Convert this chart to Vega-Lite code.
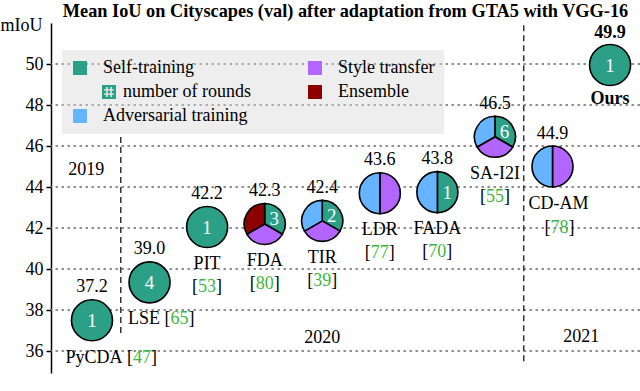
{
  "$schema": "https://vega.github.io/schema/vega-lite/v6.json",
  "width": 589,
  "height": 350,
  "autosize": "none",
  "padding": {"left": 51, "top": 23, "right": 0, "bottom": 18},
  "background": "white",
  "title": {"text": "Mean IoU on Cityscapes (val) after adaptation from GTA5 with VGG-16", "font": "Liberation Serif", "fontSize": 18.3, "fontWeight": "bold", "color": "black", "anchor": "middle", "offset": 1, "dy": 6},
  "config": {
    "font": "Liberation Serif",
    "view": {"stroke": null},
    "text": {"font": "Liberation Serif", "fontSize": 18, "color": "black", "baseline": "middle"}
  },
  "datasets": {
    "methods": [
      {"m": "PyCDA", "i": 1, "y": 37.5, "miou": 37.2, "cite": "47", "rounds": "1", "nsec": 1},
      {"m": "LSE", "i": 2, "y": 39.35, "miou": 39.0, "cite": "65", "rounds": "4", "nsec": 1},
      {"m": "PIT", "i": 3, "y": 42.05, "miou": 42.2, "cite": "53", "rounds": "1", "nsec": 1},
      {"m": "FDA", "i": 4, "y": 42.2, "miou": 42.3, "cite": "80", "rounds": "3", "nsec": 3},
      {"m": "TIR", "i": 5, "y": 42.35, "miou": 42.4, "cite": "39", "rounds": "2", "nsec": 3},
      {"m": "LDR", "i": 6, "y": 43.7, "miou": 43.6, "cite": "77", "rounds": null, "nsec": 2},
      {"m": "FADA", "i": 7, "y": 43.75, "miou": 43.8, "cite": "70", "rounds": "1", "nsec": 2},
      {"m": "SA-I2I", "i": 8, "y": 46.45, "miou": 46.5, "cite": "55", "rounds": "6", "nsec": 3},
      {"m": "CD-AM", "i": 9, "y": 45.0, "miou": 44.9, "cite": "78", "rounds": null, "nsec": 2},
      {"m": "Ours", "i": 10, "y": 49.95, "miou": 49.9, "cite": null, "rounds": "1", "nsec": 1}
    ],
    "sectors": [
      {"m": "PyCDA", "cat": "Self-training", "ord": 1, "w": 1},
      {"m": "LSE", "cat": "Self-training", "ord": 1, "w": 1},
      {"m": "PIT", "cat": "Self-training", "ord": 1, "w": 1},
      {"m": "FDA", "cat": "Self-training", "ord": 1, "w": 1},
      {"m": "FDA", "cat": "Style transfer", "ord": 2, "w": 1},
      {"m": "FDA", "cat": "Ensemble", "ord": 3, "w": 1},
      {"m": "TIR", "cat": "Self-training", "ord": 1, "w": 1},
      {"m": "TIR", "cat": "Style transfer", "ord": 2, "w": 1},
      {"m": "TIR", "cat": "Adversarial training", "ord": 3, "w": 1},
      {"m": "LDR", "cat": "Style transfer", "ord": 2, "w": 1},
      {"m": "LDR", "cat": "Adversarial training", "ord": 3, "w": 1},
      {"m": "FADA", "cat": "Self-training", "ord": 1, "w": 1},
      {"m": "FADA", "cat": "Adversarial training", "ord": 3, "w": 1},
      {"m": "SA-I2I", "cat": "Self-training", "ord": 1, "w": 1},
      {"m": "SA-I2I", "cat": "Style transfer", "ord": 2, "w": 1},
      {"m": "SA-I2I", "cat": "Adversarial training", "ord": 3, "w": 1},
      {"m": "CD-AM", "cat": "Style transfer", "ord": 2, "w": 1},
      {"m": "CD-AM", "cat": "Adversarial training", "ord": 3, "w": 1},
      {"m": "Ours", "cat": "Self-training", "ord": 1, "w": 1}
    ],
    "grid": [{"g": 36}, {"g": 38}, {"g": 40}, {"g": 42}, {"g": 44}, {"g": 46}, {"g": 48}, {"g": 50}],
    "bounds": [
      {"i": 1.5, "y0": 36.88, "y1": 46.54},
      {"i": 8.5, "y0": 35.5, "y1": 52.0}
    ],
    "years": [
      {"year": "2019", "i": 0.9, "y": 44.83},
      {"year": "2020", "i": 5.0, "y": 36.63},
      {"year": "2021", "i": 9.5, "y": 36.68}
    ]
  },
  "layer": [
    {
      "data": {"name": "grid"},
      "mark": {"type": "rule", "stroke": "#6e6e6e", "strokeWidth": 1.5, "strokeDash": [2.5, 3.5]},
      "encoding": {
        "y": {"field": "g", "type": "quantitative", "title": "mIoU", "scale": {"domain": [34.93, 52.0], "nice": false, "zero": false},
          "axis": {"title": "mIoU", "titleAngle": 0, "titleAlign": "center", "titleBaseline": "middle", "titleX": -30, "titleY": 2,
            "titleFont": "Liberation Serif", "titleFontSize": 18, "titleFontWeight": "normal", "titleColor": "black",
            "values": [36, 38, 40, 42, 44, 46, 48, 50], "labelFont": "Liberation Serif", "labelFontSize": 18, "labelColor": "black",
            "labelPadding": 3, "tickSize": 5, "tickColor": "black", "tickWidth": 1.5, "domainColor": "black", "domainWidth": 1.5,
            "grid": false}}
      }
    },
    {
      "data": {"name": "bounds"},
      "mark": {"type": "rule", "stroke": "#333333", "strokeWidth": 1.5, "strokeDash": [6, 4]},
      "encoding": {
        "x": {"field": "i", "type": "quantitative", "scale": {"domain": [0.288, 10.52], "nice": false, "zero": false}, "axis": null},
        "y": {"field": "y0", "type": "quantitative", "title": "mIoU", "scale": {"domain": [34.93, 52.0], "nice": false, "zero": false}},
        "y2": {"field": "y1"}
      }
    },
    {
      "data": {"name": "sectors"},
      "transform": [
        {"lookup": "m", "from": {"data": {"name": "methods"}, "key": "m", "fields": ["i", "y"]}},
        {"stack": "w", "groupby": ["m"], "sort": [{"field": "ord", "order": "ascending"}], "offset": "normalize", "as": ["t0", "t1"]}
      ],
      "mark": {"type": "arc", "radius": 20.5, "stroke": "black", "strokeWidth": 1.6},
      "encoding": {
        "x": {"field": "i", "type": "quantitative", "scale": {"domain": [0.288, 10.52], "nice": false, "zero": false}, "axis": null},
        "y": {"field": "y", "type": "quantitative", "title": "mIoU", "scale": {"domain": [34.93, 52.0], "nice": false, "zero": false}},
        "theta": {"field": "t0", "type": "quantitative", "stack": null, "scale": {"domain": [0, 1]}},
        "theta2": {"field": "t1"},
        "color": {"field": "cat", "type": "nominal",
          "scale": {"domain": ["Self-training", "number of rounds", "Adversarial training", "Style transfer", "Ensemble"],
            "range": ["#2c9f87", "#2c9f87", "#66b3ff", "#b366ff", "#8b0000"]},
          "legend": {"orient": "none", "legendX": 11, "legendY": 27, "columns": 2, "direction": "vertical", "title": null,
            "fillColor": "rgba(215,215,215,0.42)", "strokeColor": null, "padding": 9,
            "symbolType": "square", "symbolSize": 196, "symbolStrokeWidth": 0, "symbolStrokeColor": "transparent",
            "labelFont": "Liberation Serif", "labelFontSize": 18, "labelColor": "black", "labelOffset": 14, "labelLimit": 300,
            "rowPadding": 6, "columnPadding": 55,
            "encode": {
              "symbols": {"update": {"shape": {"signal": "datum.label == 'number of rounds' ? 'M3.14,-1L5.14,-1L5.14,1L3.14,1Z M3.74,-0.7L3.74,-0.4L3.44,-0.4L3.44,-0.2L3.74,-0.2L3.74,0.2L3.44,0.2L3.44,0.4L3.74,0.4L3.74,0.7L3.94,0.7L3.94,0.4L4.34,0.4L4.34,0.7L4.54,0.7L4.54,0.4L4.84,0.4L4.84,0.2L4.54,0.2L4.54,-0.2L4.84,-0.2L4.84,-0.4L4.54,-0.4L4.54,-0.7L4.34,-0.7L4.34,-0.4L3.94,-0.4L3.94,-0.7Z M3.94,-0.2L4.34,-0.2L4.34,0.2L3.94,0.2Z' : 'square'"}}},
              "labels": {"update": {"dx": {"signal": "datum.label == 'number of rounds' ? 20 : 0"}}}
            }}}
      }
    },
    {
      "data": {"name": "methods"},
      "transform": [{"filter": "datum.rounds != null && datum.nsec == 1"}],
      "mark": {"type": "text", "color": "white", "fontSize": 19, "dy": 1},
      "encoding": {
        "x": {"field": "i", "type": "quantitative", "scale": {"domain": [0.288, 10.52], "nice": false, "zero": false}, "axis": null},
        "y": {"field": "y", "type": "quantitative", "title": "mIoU", "scale": {"domain": [34.93, 52.0], "nice": false, "zero": false}},
        "text": {"field": "rounds"}
      }
    },
    {
      "data": {"name": "methods"},
      "transform": [{"filter": "datum.rounds != null && datum.nsec == 3"}],
      "mark": {"type": "text", "color": "white", "fontSize": 19, "dx": 9.5, "dy": -5},
      "encoding": {
        "x": {"field": "i", "type": "quantitative", "scale": {"domain": [0.288, 10.52], "nice": false, "zero": false}, "axis": null},
        "y": {"field": "y", "type": "quantitative", "title": "mIoU", "scale": {"domain": [34.93, 52.0], "nice": false, "zero": false}},
        "text": {"field": "rounds"}
      }
    },
    {
      "data": {"name": "methods"},
      "transform": [{"filter": "datum.rounds != null && datum.nsec == 2"}],
      "mark": {"type": "text", "color": "white", "fontSize": 19, "dx": 10, "dy": 1},
      "encoding": {
        "x": {"field": "i", "type": "quantitative", "scale": {"domain": [0.288, 10.52], "nice": false, "zero": false}, "axis": null},
        "y": {"field": "y", "type": "quantitative", "title": "mIoU", "scale": {"domain": [34.93, 52.0], "nice": false, "zero": false}},
        "text": {"field": "rounds"}
      }
    },
    {
      "data": {"name": "methods"},
      "transform": [{"filter": "datum.m != 'Ours'"}],
      "mark": {"type": "text", "dy": -33},
      "encoding": {
        "x": {"field": "i", "type": "quantitative", "scale": {"domain": [0.288, 10.52], "nice": false, "zero": false}, "axis": null},
        "y": {"field": "y", "type": "quantitative", "title": "mIoU", "scale": {"domain": [34.93, 52.0], "nice": false, "zero": false}},
        "text": {"field": "miou", "type": "quantitative", "format": ".1f"}
      }
    },
    {
      "data": {"name": "methods"},
      "transform": [{"filter": "datum.m == 'Ours'"}],
      "mark": {"type": "text", "dy": -32, "fontWeight": "bold"},
      "encoding": {
        "x": {"field": "i", "type": "quantitative", "scale": {"domain": [0.288, 10.52], "nice": false, "zero": false}, "axis": null},
        "y": {"field": "y", "type": "quantitative", "title": "mIoU", "scale": {"domain": [34.93, 52.0], "nice": false, "zero": false}},
        "text": {"field": "miou", "type": "quantitative", "format": ".1f"}
      }
    },
    {
      "data": {"name": "methods"},
      "transform": [{"filter": "datum.m == 'Ours'"}],
      "mark": {"type": "text", "dy": 34, "fontWeight": "bold"},
      "encoding": {
        "x": {"field": "i", "type": "quantitative", "scale": {"domain": [0.288, 10.52], "nice": false, "zero": false}, "axis": null},
        "y": {"field": "y", "type": "quantitative", "title": "mIoU", "scale": {"domain": [34.93, 52.0], "nice": false, "zero": false}},
        "text": {"field": "m"}
      }
    },
    {
      "data": {"name": "methods"},
      "transform": [{"filter": "datum.i >= 3 && datum.i <= 8"}],
      "mark": {"type": "text", "dy": 37},
      "encoding": {
        "x": {"field": "i", "type": "quantitative", "scale": {"domain": [0.288, 10.52], "nice": false, "zero": false}, "axis": null},
        "y": {"field": "y", "type": "quantitative", "title": "mIoU", "scale": {"domain": [34.93, 52.0], "nice": false, "zero": false}},
        "text": {"field": "m"}
      }
    },
    {
      "data": {"name": "methods"},
      "transform": [{"filter": "datum.i >= 3 && datum.i <= 8"}],
      "mark": {"type": "text", "dy": 60, "color": "#3db83d"},
      "encoding": {
        "x": {"field": "i", "type": "quantitative", "scale": {"domain": [0.288, 10.52], "nice": false, "zero": false}, "axis": null},
        "y": {"field": "y", "type": "quantitative", "title": "mIoU", "scale": {"domain": [34.93, 52.0], "nice": false, "zero": false}},
        "text": {"field": "cite"}
      }
    },
    {
      "data": {"name": "methods"},
      "transform": [{"filter": "datum.i >= 3 && datum.i <= 8"}],
      "mark": {"type": "text", "dy": 60, "dx": -9, "align": "right"},
      "encoding": {
        "x": {"field": "i", "type": "quantitative", "scale": {"domain": [0.288, 10.52], "nice": false, "zero": false}, "axis": null},
        "y": {"field": "y", "type": "quantitative", "title": "mIoU", "scale": {"domain": [34.93, 52.0], "nice": false, "zero": false}},
        "text": {"value": "["}
      }
    },
    {
      "data": {"name": "methods"},
      "transform": [{"filter": "datum.i >= 3 && datum.i <= 8"}],
      "mark": {"type": "text", "dy": 60, "dx": 9, "align": "left"},
      "encoding": {
        "x": {"field": "i", "type": "quantitative", "scale": {"domain": [0.288, 10.52], "nice": false, "zero": false}, "axis": null},
        "y": {"field": "y", "type": "quantitative", "title": "mIoU", "scale": {"domain": [34.93, 52.0], "nice": false, "zero": false}},
        "text": {"value": "]"}
      }
    },
    {
      "data": {"name": "methods"},
      "transform": [{"filter": "datum.m == 'CD-AM'"}],
      "mark": {"type": "text", "dy": 37, "dx": 6},
      "encoding": {
        "x": {"field": "i", "type": "quantitative", "scale": {"domain": [0.288, 10.52], "nice": false, "zero": false}, "axis": null},
        "y": {"field": "y", "type": "quantitative", "title": "mIoU", "scale": {"domain": [34.93, 52.0], "nice": false, "zero": false}},
        "text": {"field": "m"}
      }
    },
    {
      "data": {"name": "methods"},
      "transform": [{"filter": "datum.m == 'CD-AM'"}],
      "mark": {"type": "text", "dy": 61, "dx": 7, "color": "#3db83d"},
      "encoding": {
        "x": {"field": "i", "type": "quantitative", "scale": {"domain": [0.288, 10.52], "nice": false, "zero": false}, "axis": null},
        "y": {"field": "y", "type": "quantitative", "title": "mIoU", "scale": {"domain": [34.93, 52.0], "nice": false, "zero": false}},
        "text": {"field": "cite"}
      }
    },
    {
      "data": {"name": "methods"},
      "transform": [{"filter": "datum.m == 'CD-AM'"}],
      "mark": {"type": "text", "dy": 61, "dx": -2, "align": "right"},
      "encoding": {
        "x": {"field": "i", "type": "quantitative", "scale": {"domain": [0.288, 10.52], "nice": false, "zero": false}, "axis": null},
        "y": {"field": "y", "type": "quantitative", "title": "mIoU", "scale": {"domain": [34.93, 52.0], "nice": false, "zero": false}},
        "text": {"value": "["}
      }
    },
    {
      "data": {"name": "methods"},
      "transform": [{"filter": "datum.m == 'CD-AM'"}],
      "mark": {"type": "text", "dy": 61, "dx": 16, "align": "left"},
      "encoding": {
        "x": {"field": "i", "type": "quantitative", "scale": {"domain": [0.288, 10.52], "nice": false, "zero": false}, "axis": null},
        "y": {"field": "y", "type": "quantitative", "title": "mIoU", "scale": {"domain": [34.93, 52.0], "nice": false, "zero": false}},
        "text": {"value": "]"}
      }
    },
    {
      "data": {"name": "methods"},
      "transform": [{"filter": "datum.m == 'PyCDA'"}],
      "mark": {"type": "text", "dy": 38, "dx": 30.5, "align": "right"},
      "encoding": {
        "x": {"field": "i", "type": "quantitative", "scale": {"domain": [0.288, 10.52], "nice": false, "zero": false}, "axis": null},
        "y": {"field": "y", "type": "quantitative", "title": "mIoU", "scale": {"domain": [34.93, 52.0], "nice": false, "zero": false}},
        "text": {"field": "m"}
      }
    },
    {
      "data": {"name": "methods"},
      "transform": [{"filter": "datum.m == 'PyCDA'"}],
      "mark": {"type": "text", "dy": 38, "dx": 41, "align": "right"},
      "encoding": {
        "x": {"field": "i", "type": "quantitative", "scale": {"domain": [0.288, 10.52], "nice": false, "zero": false}, "axis": null},
        "y": {"field": "y", "type": "quantitative", "title": "mIoU", "scale": {"domain": [34.93, 52.0], "nice": false, "zero": false}},
        "text": {"value": "["}
      }
    },
    {
      "data": {"name": "methods"},
      "transform": [{"filter": "datum.m == 'PyCDA'"}],
      "mark": {"type": "text", "dy": 38, "dx": 41, "align": "left", "color": "#3db83d"},
      "encoding": {
        "x": {"field": "i", "type": "quantitative", "scale": {"domain": [0.288, 10.52], "nice": false, "zero": false}, "axis": null},
        "y": {"field": "y", "type": "quantitative", "title": "mIoU", "scale": {"domain": [34.93, 52.0], "nice": false, "zero": false}},
        "text": {"field": "cite"}
      }
    },
    {
      "data": {"name": "methods"},
      "transform": [{"filter": "datum.m == 'PyCDA'"}],
      "mark": {"type": "text", "dy": 38, "dx": 59, "align": "left"},
      "encoding": {
        "x": {"field": "i", "type": "quantitative", "scale": {"domain": [0.288, 10.52], "nice": false, "zero": false}, "axis": null},
        "y": {"field": "y", "type": "quantitative", "title": "mIoU", "scale": {"domain": [34.93, 52.0], "nice": false, "zero": false}},
        "text": {"value": "]"}
      }
    },
    {
      "data": {"name": "methods"},
      "transform": [{"filter": "datum.m == 'LSE'"}],
      "mark": {"type": "text", "dy": 37, "dx": 10.5, "align": "right"},
      "encoding": {
        "x": {"field": "i", "type": "quantitative", "scale": {"domain": [0.288, 10.52], "nice": false, "zero": false}, "axis": null},
        "y": {"field": "y", "type": "quantitative", "title": "mIoU", "scale": {"domain": [34.93, 52.0], "nice": false, "zero": false}},
        "text": {"field": "m"}
      }
    },
    {
      "data": {"name": "methods"},
      "transform": [{"filter": "datum.m == 'LSE'"}],
      "mark": {"type": "text", "dy": 37, "dx": 21, "align": "right"},
      "encoding": {
        "x": {"field": "i", "type": "quantitative", "scale": {"domain": [0.288, 10.52], "nice": false, "zero": false}, "axis": null},
        "y": {"field": "y", "type": "quantitative", "title": "mIoU", "scale": {"domain": [34.93, 52.0], "nice": false, "zero": false}},
        "text": {"value": "["}
      }
    },
    {
      "data": {"name": "methods"},
      "transform": [{"filter": "datum.m == 'LSE'"}],
      "mark": {"type": "text", "dy": 37, "dx": 21, "align": "left", "color": "#3db83d"},
      "encoding": {
        "x": {"field": "i", "type": "quantitative", "scale": {"domain": [0.288, 10.52], "nice": false, "zero": false}, "axis": null},
        "y": {"field": "y", "type": "quantitative", "title": "mIoU", "scale": {"domain": [34.93, 52.0], "nice": false, "zero": false}},
        "text": {"field": "cite"}
      }
    },
    {
      "data": {"name": "methods"},
      "transform": [{"filter": "datum.m == 'LSE'"}],
      "mark": {"type": "text", "dy": 37, "dx": 39, "align": "left"},
      "encoding": {
        "x": {"field": "i", "type": "quantitative", "scale": {"domain": [0.288, 10.52], "nice": false, "zero": false}, "axis": null},
        "y": {"field": "y", "type": "quantitative", "title": "mIoU", "scale": {"domain": [34.93, 52.0], "nice": false, "zero": false}},
        "text": {"value": "]"}
      }
    },
    {
      "data": {"name": "years"},
      "mark": {"type": "text"},
      "encoding": {
        "x": {"field": "i", "type": "quantitative", "scale": {"domain": [0.288, 10.52], "nice": false, "zero": false}, "axis": null},
        "y": {"field": "y", "type": "quantitative", "title": "mIoU", "scale": {"domain": [34.93, 52.0], "nice": false, "zero": false}},
        "text": {"field": "year"}
      }
    }
  ]
}
